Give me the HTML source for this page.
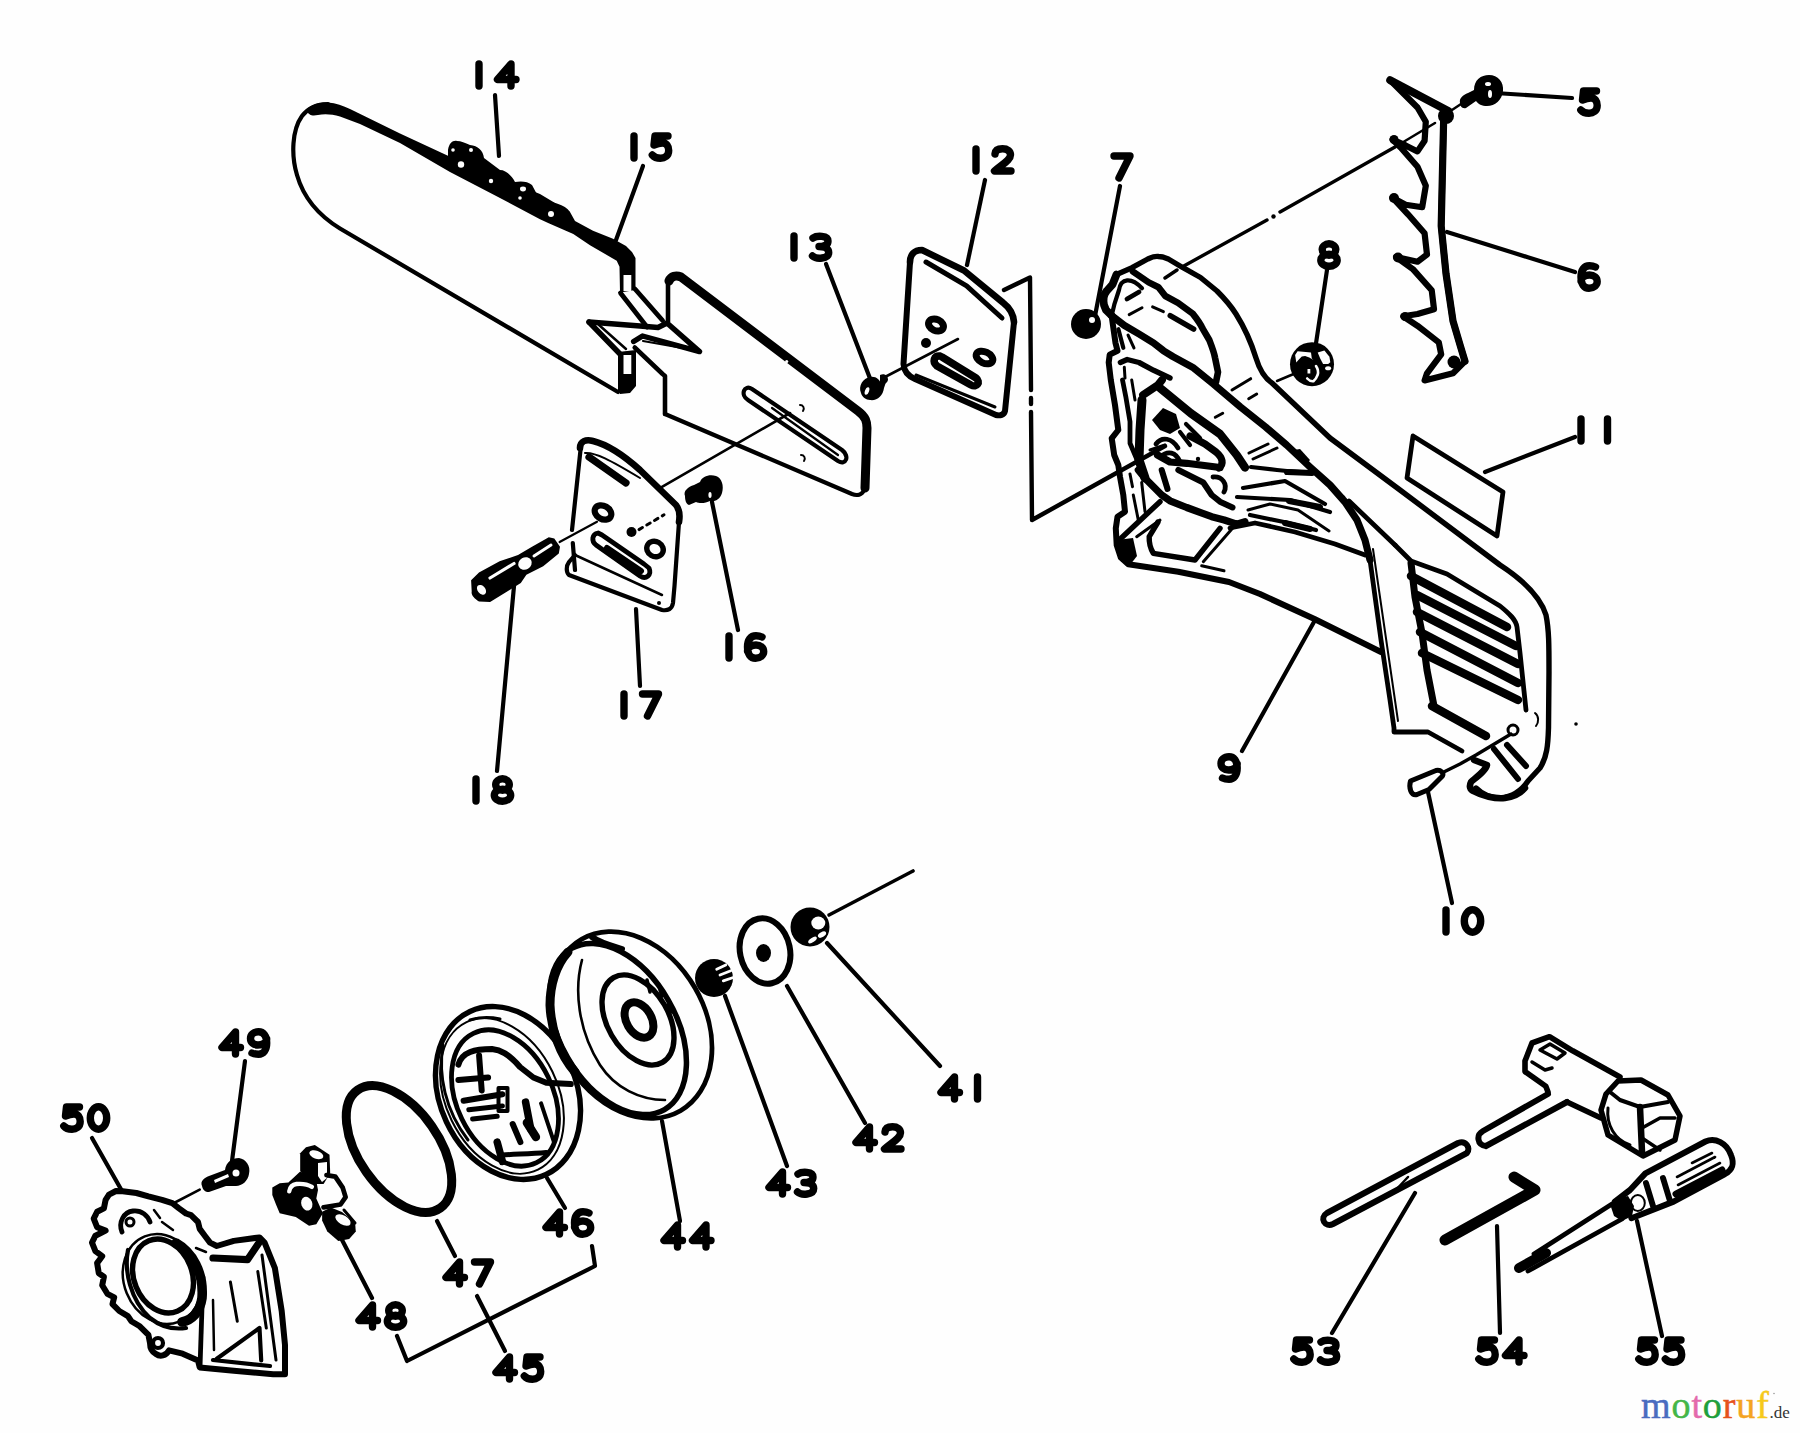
<!DOCTYPE html>
<html><head><meta charset="utf-8"><title>Parts diagram</title>
<style>
html,body{margin:0;padding:0;background:#fefefe;}
svg{display:block;}
.l,.d,.d *{fill:none;stroke:#000;stroke-linecap:round;stroke-linejoin:round;}
.f{fill:#000;stroke:none;}
.w{fill:#fefefe;stroke:none;}
</style></head>
<body>
<svg width="1800" height="1433" viewBox="0 0 1800 1433">
<rect width="1800" height="1433" fill="#fefefe"/>
<g class="d" stroke-width="7.4"><g transform="translate(467.0,60.0) scale(1.0)"><path d="M12,4 L12,26"/></g><g transform="translate(493.5,60.0) scale(1.0)"><path d="M17.5,26 L17.5,4 L4,19.5 L22.5,19.5"/></g></g>
<g class="d" stroke-width="7.4"><g transform="translate(622.0,132.0) scale(1.0)"><path d="M12,4 L12,26"/></g><g transform="translate(648.5,132.0) scale(1.0)"><path d="M19.5,4 L6.5,4 L5.5,13 C9,11.5 12,11 14,11 C18,11 20.2,14 20.2,18.5 C20.2,24 16,26.2 12,26.2 C8,26.2 5.5,25 3.8,23"/></g></g>
<g class="d" stroke-width="7.4"><g transform="translate(782.0,232.0) scale(1.0)"><path d="M12,4 L12,26"/></g><g transform="translate(808.5,232.0) scale(1.0)"><path d="M4.5,6 C8,3.5 19.5,3 19.5,9 C19.5,13.5 14.5,14.5 10.5,14.5 C16,14.5 20.2,16.5 20.2,20.5 C20.2,27 8,27.5 4,24"/></g></g>
<g class="d" stroke-width="7.4"><g transform="translate(964.0,145.0) scale(1.0)"><path d="M12,4 L12,26"/></g><g transform="translate(990.5,145.0) scale(1.0)"><path d="M4.5,9 C5,4.5 9,3.8 12,3.8 C17,3.8 20,6 20,10 C20,15 12,19 4,26 L20.5,26"/></g></g>
<g class="d" stroke-width="7.4"><g transform="translate(1110.0,152.0) scale(1.0)"><path d="M4,4 L20,4 L9,26"/></g></g>
<g class="d" stroke-width="7.4"><g transform="translate(1317.0,240.0) scale(1.0)"><ellipse cx="12" cy="9.5" rx="6.8" ry="5.7"/><ellipse cx="12" cy="20.2" rx="8.2" ry="6.1"/></g></g>
<g class="d" stroke-width="7.4"><g transform="translate(1577.0,87.0) scale(1.0)"><path d="M19.5,4 L6.5,4 L5.5,13 C9,11.5 12,11 14,11 C18,11 20.2,14 20.2,18.5 C20.2,24 16,26.2 12,26.2 C8,26.2 5.5,25 3.8,23"/></g></g>
<g class="d" stroke-width="7.4"><g transform="translate(1577.0,262.0) scale(1.0)"><path d="M18.5,5 C16,3.8 14,3.8 12.5,3.8 C7,3.8 4,8 4,15 C4,22 7,26.2 12,26.2 C17,26.2 20.2,23 20.2,19.5 C20.2,15.5 17,13 12.5,13 C8,13 4,15.5 4,19"/></g></g>
<g class="d" stroke-width="7.4"><g transform="translate(1569.0,415.0) scale(1.0)"><path d="M12,4 L12,26"/></g><g transform="translate(1595.5,415.0) scale(1.0)"><path d="M12,4 L12,26"/></g></g>
<g class="d" stroke-width="7.4"><g transform="translate(717.0,632.0) scale(1.0)"><path d="M12,4 L12,26"/></g><g transform="translate(743.5,632.0) scale(1.0)"><path d="M18.5,5 C16,3.8 14,3.8 12.5,3.8 C7,3.8 4,8 4,15 C4,22 7,26.2 12,26.2 C17,26.2 20.2,23 20.2,19.5 C20.2,15.5 17,13 12.5,13 C8,13 4,15.5 4,19"/></g></g>
<g class="d" stroke-width="7.4"><g transform="translate(612.0,690.0) scale(1.0)"><path d="M12,4 L12,26"/></g><g transform="translate(638.5,690.0) scale(1.0)"><path d="M4,4 L20,4 L9,26"/></g></g>
<g class="d" stroke-width="7.4"><g transform="translate(464.0,775.0) scale(1.0)"><path d="M12,4 L12,26"/></g><g transform="translate(490.5,775.0) scale(1.0)"><ellipse cx="12" cy="9.5" rx="6.8" ry="5.7"/><ellipse cx="12" cy="20.2" rx="8.2" ry="6.1"/></g></g>
<g class="d" stroke-width="7.4"><g transform="translate(1217.0,753.0) scale(1.0)"><path d="M5.5,25 C8,26.2 10,26.2 12,26.2 C17,26.2 20.2,22 20.2,15 C20.2,8 17,3.8 12,3.8 C7,3.8 4,7 4,10.5 C4,14.5 7,17 11.5,17 C16,17 20.2,14.5 20.2,11"/></g></g>
<g class="d" stroke-width="7.4"><g transform="translate(1434.0,906.0) scale(1.0)"><path d="M12,4 L12,26"/></g><g transform="translate(1460.5,906.0) scale(1.0)"><ellipse cx="12" cy="15" rx="8.2" ry="11.2"/></g></g>
<g class="d" stroke-width="7.4"><g transform="translate(218.0,1028.0) scale(1.0)"><path d="M17.5,26 L17.5,4 L4,19.5 L22.5,19.5"/></g><g transform="translate(246.5,1028.0) scale(1.0)"><path d="M5.5,25 C8,26.2 10,26.2 12,26.2 C17,26.2 20.2,22 20.2,15 C20.2,8 17,3.8 12,3.8 C7,3.8 4,7 4,10.5 C4,14.5 7,17 11.5,17 C16,17 20.2,14.5 20.2,11"/></g></g>
<g class="d" stroke-width="7.4"><g transform="translate(60.0,1103.0) scale(1.0)"><path d="M19.5,4 L6.5,4 L5.5,13 C9,11.5 12,11 14,11 C18,11 20.2,14 20.2,18.5 C20.2,24 16,26.2 12,26.2 C8,26.2 5.5,25 3.8,23"/></g><g transform="translate(86.5,1103.0) scale(1.0)"><ellipse cx="12" cy="15" rx="8.2" ry="11.2"/></g></g>
<g class="d" stroke-width="7.4"><g transform="translate(937.0,1073.0) scale(1.0)"><path d="M17.5,26 L17.5,4 L4,19.5 L22.5,19.5"/></g><g transform="translate(965.5,1073.0) scale(1.0)"><path d="M12,4 L12,26"/></g></g>
<g class="d" stroke-width="7.4"><g transform="translate(852.0,1123.0) scale(1.0)"><path d="M17.5,26 L17.5,4 L4,19.5 L22.5,19.5"/></g><g transform="translate(880.5,1123.0) scale(1.0)"><path d="M4.5,9 C5,4.5 9,3.8 12,3.8 C17,3.8 20,6 20,10 C20,15 12,19 4,26 L20.5,26"/></g></g>
<g class="d" stroke-width="7.4"><g transform="translate(765.0,1168.0) scale(1.0)"><path d="M17.5,26 L17.5,4 L4,19.5 L22.5,19.5"/></g><g transform="translate(793.5,1168.0) scale(1.0)"><path d="M4.5,6 C8,3.5 19.5,3 19.5,9 C19.5,13.5 14.5,14.5 10.5,14.5 C16,14.5 20.2,16.5 20.2,20.5 C20.2,27 8,27.5 4,24"/></g></g>
<g class="d" stroke-width="7.4"><g transform="translate(660.0,1221.0) scale(1.0)"><path d="M17.5,26 L17.5,4 L4,19.5 L22.5,19.5"/></g><g transform="translate(688.5,1221.0) scale(1.0)"><path d="M17.5,26 L17.5,4 L4,19.5 L22.5,19.5"/></g></g>
<g class="d" stroke-width="7.4"><g transform="translate(542.0,1208.0) scale(1.0)"><path d="M17.5,26 L17.5,4 L4,19.5 L22.5,19.5"/></g><g transform="translate(570.5,1208.0) scale(1.0)"><path d="M18.5,5 C16,3.8 14,3.8 12.5,3.8 C7,3.8 4,8 4,15 C4,22 7,26.2 12,26.2 C17,26.2 20.2,23 20.2,19.5 C20.2,15.5 17,13 12.5,13 C8,13 4,15.5 4,19"/></g></g>
<g class="d" stroke-width="7.4"><g transform="translate(442.0,1258.0) scale(1.0)"><path d="M17.5,26 L17.5,4 L4,19.5 L22.5,19.5"/></g><g transform="translate(470.5,1258.0) scale(1.0)"><path d="M4,4 L20,4 L9,26"/></g></g>
<g class="d" stroke-width="7.4"><g transform="translate(355.0,1301.0) scale(1.0)"><path d="M17.5,26 L17.5,4 L4,19.5 L22.5,19.5"/></g><g transform="translate(383.5,1301.0) scale(1.0)"><ellipse cx="12" cy="9.5" rx="6.8" ry="5.7"/><ellipse cx="12" cy="20.2" rx="8.2" ry="6.1"/></g></g>
<g class="d" stroke-width="7.4"><g transform="translate(492.0,1353.0) scale(1.0)"><path d="M17.5,26 L17.5,4 L4,19.5 L22.5,19.5"/></g><g transform="translate(520.5,1353.0) scale(1.0)"><path d="M19.5,4 L6.5,4 L5.5,13 C9,11.5 12,11 14,11 C18,11 20.2,14 20.2,18.5 C20.2,24 16,26.2 12,26.2 C8,26.2 5.5,25 3.8,23"/></g></g>
<g class="d" stroke-width="7.4"><g transform="translate(1290.0,1336.0) scale(1.0)"><path d="M19.5,4 L6.5,4 L5.5,13 C9,11.5 12,11 14,11 C18,11 20.2,14 20.2,18.5 C20.2,24 16,26.2 12,26.2 C8,26.2 5.5,25 3.8,23"/></g><g transform="translate(1316.5,1336.0) scale(1.0)"><path d="M4.5,6 C8,3.5 19.5,3 19.5,9 C19.5,13.5 14.5,14.5 10.5,14.5 C16,14.5 20.2,16.5 20.2,20.5 C20.2,27 8,27.5 4,24"/></g></g>
<g class="d" stroke-width="7.4"><g transform="translate(1475.0,1336.0) scale(1.0)"><path d="M19.5,4 L6.5,4 L5.5,13 C9,11.5 12,11 14,11 C18,11 20.2,14 20.2,18.5 C20.2,24 16,26.2 12,26.2 C8,26.2 5.5,25 3.8,23"/></g><g transform="translate(1501.5,1336.0) scale(1.0)"><path d="M17.5,26 L17.5,4 L4,19.5 L22.5,19.5"/></g></g>
<g class="d" stroke-width="7.4"><g transform="translate(1635.0,1336.0) scale(1.0)"><path d="M19.5,4 L6.5,4 L5.5,13 C9,11.5 12,11 14,11 C18,11 20.2,14 20.2,18.5 C20.2,24 16,26.2 12,26.2 C8,26.2 5.5,25 3.8,23"/></g><g transform="translate(1661.5,1336.0) scale(1.0)"><path d="M19.5,4 L6.5,4 L5.5,13 C9,11.5 12,11 14,11 C18,11 20.2,14 20.2,18.5 C20.2,24 16,26.2 12,26.2 C8,26.2 5.5,25 3.8,23"/></g></g>
<!-- 01_leaders.svg -->
<g class="l" stroke-width="4.2">
<path d="M495,95 L499,156"/>
<path d="M643,166 L616,240"/>
<path d="M826,264 L871,381"/>
<path d="M985,180 L967,265"/>
<path d="M1120,186 L1095,316"/>
<path d="M1327,270 L1315,350"/>
<path d="M1495,93 L1572,98"/>
<path d="M1447,232 L1575,272"/>
<path d="M1485,472 L1575,437"/>
<path d="M712,502 L738,630"/>
<path d="M636,609 L640,686"/>
<path d="M514,586 L497,771"/>
<path d="M1242,751 L1314.5,621"/>
<path d="M1452,903 L1428,792"/>
<path d="M245,1061 L232,1161"/>
<path d="M92,1138 L122,1191"/>
<path d="M827,943 L940,1066"/>
<path d="M787,986 L865,1123"/>
<path d="M725,996 L787,1166"/>
<path d="M662,1121 L680,1221"/>
<path d="M547,1178 L565,1208"/>
<path d="M437,1221 L455,1256"/>
<path d="M340,1236 L372,1298"/>
<path d="M477,1296 L505,1351"/>
<path d="M397,1336 L407,1361 L595,1266 L592,1246"/>
<path d="M1332,1333 L1415,1193"/>
<path d="M1500,1333 L1497,1226"/>
<path d="M1662,1336 L1637,1221"/>
</g>
<!-- 10_bar.svg -->
<g>
<!-- front bar outline -->
<path class="l" stroke-width="4.2" d="M618,392 L340,228.5 C318,215 303,196 297,175 C291,155 292,130 302,116 C308,108 318,104 328,104"/>
<!-- chain band -->
<path class="f" d="M306,110 C312,104 320,102 328,102.5 C336,103 343,106 350,109 L400,133.5 L470,166 L540,194 L570,212 L575,221 L593,230.7 L613,238.7 L626,246 L632,252 L635.5,258 L635.5,290 L620,292.5 L619.5,266.7 L616.7,260.7 L590,245.3 L573.3,234 L548.7,223.3 L540,219.3 L500,198 L450,172 L400,143 L360,124 L340,116.5 C332,114 324,113.5 318,115 C313,116 309,116 306,110 Z"/>
<!-- chain bumps -->
<path class="f" d="M448,150 C449,143 453,140 457,141 C461,141 465,143 470,145 C478,146 483,150 484,158 L500,170 C506,170 512,176 515,182 C520,181 528,181 532,185 L540,200 C552,202 565,204 570,212 L560,224 L448,165 Z"/>
<g class="w"><circle cx="453" cy="150" r="1.8"/><circle cx="471" cy="150" r="2"/><circle cx="461" cy="164.5" r="3.2"/><circle cx="491" cy="181" r="2.2"/><ellipse cx="523" cy="189" rx="3" ry="2.4"/><circle cx="520" cy="198" r="1.8"/><circle cx="551" cy="214" r="3"/></g>
<!-- right end of front bar top -->

<rect class="w" x="623.5" y="275" width="7.8" height="16"/>
<!-- diagonal strip -->
<path class="l" stroke-width="4.8" d="M620.5,293 L647,327"/>
<path class="l" stroke-width="4.8" d="M635,289 L662.6,320.5"/>
<!-- N shape -->
<path class="l" stroke-width="5.4" d="M589,322 L640,326 L658,327.5 L667,323 L699.5,351.6 L642.5,336 L633.6,341.5"/>
<path class="l" stroke-width="5.4" d="M589,322 L620,354"/>
<path class="l" stroke-width="2.5" d="M599,325 L626,349"/>
<path class="l" stroke-width="2.2" d="M643,341 L688,349"/>
<!-- lower right end of front bar -->
<path class="f" d="M618,352 L636,350 L636,386 L630,393 L620,394 L618,390 Z"/>
<rect class="w" x="623.5" y="355" width="7.8" height="19"/>
<!-- rear bar -->
<path class="l" stroke-width="4.56" d="M634.7,347.5 L662.6,374 L665,376 L665,414"/>
<path class="l" stroke-width="4.56" d="M668,321.5 L668,282"/>
<path class="l" stroke-width="9.0" d="M669,281 C671,276 676,275 681,277 L858,411 C866,417 867,422 867,428 L865,488"/>
<path class="l" stroke-width="4.2" d="M864,490 C862,495 857,496 852,494 L665,414"/>
<circle class="w" cx="786.7" cy="361.5" r="1.6"/>
<!-- slot -->
<path class="l" stroke-width="4.2" d="M752,389 L842,450 C850,456 846,466 838,461 L748,400 C740,395 744,384 752,389 Z"/>
<path class="l" stroke-width="2.2" d="M772,408 L838,455"/>
<path class="l" stroke-width="2.0" d="M800,405 C803,405 805,408 803,411 M801,455 C804,455 806,458 804,461"/>
<!-- line plate17 to bar -->
<path class="l" stroke-width="2.6" d="M660.7,487.6 L790,413"/>
</g>
<!-- 11_plate17.svg -->
<g>
<!-- plate 17 -->
<path class="l" stroke-width="6.6" d="M580,448 C580,441 586,439 593,441 C605,444 620,452 640,470 L676,505 C680,510 680,516 679,522"/>
<path class="l" stroke-width="4.2" d="M679,522 L674.5,586 L673,603 C672,609 668,611 662,610 L569,575 C566,572 566,566 569,562 L575,555"/>
<path class="l" stroke-width="4.2" d="M580.6,449 L572,530 M572.8,543 L575,570"/>
<path class="l" stroke-width="2.5" d="M575,555 L662,595"/>
<path class="l" stroke-width="7.2" d="M589,457 L626,483"/>
<path class="l" stroke-width="2.0" d="M585,453 C595,452 610,460 640,478"/>
<ellipse class="l" stroke-width="6.2" cx="603" cy="512.5" rx="8.8" ry="6.6" transform="rotate(30 603 512.5)"/>
<ellipse class="l" stroke-width="5.4" cx="655" cy="549" rx="8.5" ry="7.5" transform="rotate(30 655 549)"/>
<path class="l" stroke-width="4.8" d="M598,533 C592,534 591,541 596,545 L640,576 C646,580 652,575 649,568 L644,564 L602,535 Z"/>
<path class="l" stroke-width="6.0" d="M607,548 L641,571"/>
<circle class="f" cx="631.5" cy="532" r="5"/>
<path class="l" stroke-width="3.0" stroke-dasharray="4 5" d="M639,529.6 L664,514.8"/>
<circle class="f" cx="659" cy="603" r="2"/>
<!-- pin 18 -->
<path class="f" d="M471.1,580.3 L479,572.4 L499.6,561.3 L518,555.1 L532,546.8 L548.8,537.3 L554.3,538.4 L560,546.8 L558.8,553.5 L543.2,566.3 L526.4,574.7 L520.8,583 L490.1,602 L479,601.5 C474,598 471,595 471.7,591.4 Z"/>
<ellipse class="w" cx="481.5" cy="589.8" rx="5.5" ry="3.8" transform="rotate(50 481.5 589.8)"/>
<path class="l" style="stroke:#fefefe" stroke-width="3.2" d="M490,578 L514,563.5"/>
<ellipse class="w" cx="525" cy="563.5" rx="7" ry="6" transform="rotate(-30 525 563.5)"/>
<path class="l" style="stroke:#fefefe" stroke-width="3" d="M534,556 L551,545"/>
<path class="l" stroke-width="2.2" d="M559.6,542 L597,521.8"/>
<!-- screw 16 -->
<path class="f" d="M685,496 C683,491 688,487 694,485 L700,482 C702,476 710,474 716,476 C722,478 724,486 722,493 C720,500 714,502 710,501 C706,503 700,504 696,502 L689,505 C686,504 685,500 685,496 Z"/>
<ellipse class="w" cx="710" cy="495" rx="1.6" ry="3"/>
<!-- screw 13 -->
<path class="f" d="M861,393 C858,386 863,378 870,377 C876,376 880,380 881,384 L886,382 L884,388 C883,396 877,401 870,400 C866,400 862,397 861,393 Z"/>
<ellipse class="w" cx="867" cy="391" rx="2" ry="4" transform="rotate(20 867 391)"/>
</g>
<!-- 20_plate12.svg -->
<g>
<!-- plate 12 -->
<path class="l" stroke-width="6.6" d="M910,262 C910,255 914,250 922,250 L964,270.5 L1003,302.6 C1010,308 1013.5,314 1014,322"/>
<path class="l" stroke-width="6" d="M1014,322 L1005,411 C1004,415 1000,416 996,415 L915,379 C908,376 904,372 903.5,364 L910,262"/>
<path class="l" stroke-width="5" d="M926,262 L966.6,285.8 L1002,318"/>
<path class="l" stroke-width="3" d="M916,375 L995,407"/>
<ellipse class="l" stroke-width="7" cx="936" cy="325" rx="7.8" ry="5.6" transform="rotate(25 936 325)"/>
<ellipse class="l" stroke-width="7" cx="984.5" cy="357.5" rx="8.8" ry="5.6" transform="rotate(25 984.5 357.5)"/>
<path class="l" stroke-width="7.5" d="M940,356 C934,355 932,362 937,366 L971,385 C977,388 981,382 976,378 L942,357 Z"/>
<circle class="f" cx="926" cy="343" r="5"/>
<path class="l" stroke-width="2.6" d="M885,377 L958,339"/>
<path class="f" d="M880,375 C884,373 888,375 888,380 C887,384 883,385 880,384 Z"/>
<!-- bracket line -->
<path class="l" stroke-width="4.4" d="M1004,290 L1030,277.5 L1031,390 M1031,398 L1031,404 M1031,412 L1032,520 L1165,446"/>
<!-- nut 7 -->
<circle class="f" cx="1086" cy="324" r="15"/>
<circle class="w" cx="1092" cy="320" r="3"/>
</g>
<!-- 30_cover.svg -->
<g>
<!-- outer contour: ear + L_outer + right end -->
<path class="l" stroke-width="5.4" d="M1116.5,274.5 L1132,267.7 L1147.8,259 C1152,257 1155,256 1158.5,256.5 C1162,256.5 1165,257.5 1168.3,259 L1183,267.7 L1200.5,277.5 L1217,291 C1225,299 1231,306 1236,314 C1246,330 1252,345 1256,358 C1259,368 1263,377 1272,383 L1330,438 L1400,490 L1500,565 C1520,578 1540,596 1546,615 C1549,630 1549,645 1549,672 L1548.5,728 C1548,745 1547,757 1540,768 L1528,781 C1522,790 1512,797 1500,798 C1490,798 1482,794 1476,788"/>
<path class="l" stroke-width="6.5" d="M1474,760 L1487,765 C1486,770 1478,776 1471,782 C1469,786 1470,789 1473,791 C1482,796 1495,799 1505,798 C1513,797 1520,794 1525,788"/>
<!-- ear left thick -->
<path class="l" stroke-width="7.8" d="M1116.5,274.5 L1112.6,284.3 L1106.7,291 C1103,295 1103,300 1104,305 L1106,310 L1111.6,315.6"/>
<!-- ear inner arc D -->
<path class="l" stroke-width="6.6" d="M1133,271.6 L1148.7,282.4 L1158.5,287.2 L1165.3,296 L1178,302.9 L1192.7,313.6 C1197,319 1200,323 1202.5,328.3 L1209.3,340 C1212,347 1214,352 1215,357.6 L1218,372.2 L1216,382"/>
<!-- ear inner contour -->
<path class="l" stroke-width="4.2" d="M1142,288.2 C1138,284 1132,280 1127.2,280.4 C1122,281 1120,284 1119,290 L1114.5,303.8 L1112.6,311.7"/>
<path class="l" stroke-width="4.8" d="M1127,299 L1139,292"/>
<g class="l" stroke-width="3.0">
<path d="M1129.2,314.6 L1142,307.8"/>
<path d="M1152.6,306.8 L1163.4,311.7"/>
</g>
<path class="l" stroke-width="5.4" d="M1170.2,315.6 L1193.7,329.2"/>
<!-- L_main -->
<path class="l" stroke-width="7.2" d="M1111.6,315.6 L1124.3,325.3 L1139,334 L1153.6,343 L1163.4,350.7 L1173,356.6 L1192.7,367.3 L1213.7,384.3 L1240.5,407 L1265.6,427 L1286.6,445 L1310,467 L1330,485 L1345,502 L1357,520 L1365,540 L1370,560"/>
<path class="f" d="M1294,450 L1300,449 L1310,460 L1306,465 Z"/>
<!-- L_mid and lower lines -->
<path class="l" stroke-width="2.5" d="M1330,487 L1344,497"/>
<path class="l" stroke-width="4.8" d="M1349,501 L1395,545"/>
<!-- left contour -->
<path class="l" stroke-width="6.0" d="M1111.6,315.6 L1115.5,343 L1117.5,350.7 L1109.7,354.6 L1108.7,362.5 L1110.8,380 L1115,405 L1118.3,430 L1111.7,438.3 L1114.2,455 L1118.3,465 L1120,476.7 L1123.3,495 L1125,511.7 L1117.5,516.7 L1115.8,528.3 L1116.7,545 L1120.8,557.5 L1128.3,564.2 L1145,566.7 L1178.3,571.7 L1229,582 L1260,594 L1314.5,619 L1381,652"/>
<!-- inner left lines -->
<path class="l" stroke-width="4.2" d="M1118.4,329.2 L1123.3,347.8"/>
<path class="l" stroke-width="3.0" d="M1128,335 L1134,348"/>
<path class="l" stroke-width="4.8" d="M1122.5,380 L1125.8,396.7 L1130,421.7 L1130,443.3 L1136.7,459"/>
<path class="l" stroke-width="3.0" d="M1131.7,380 L1135,400"/>
<path class="l" stroke-width="3.0" d="M1130,474 L1132.5,486.7 M1133.3,495 L1138.3,520 M1141.7,482.5 L1145,511.7"/>
<!-- top of inner housing -->
<path class="l" stroke-width="5.4" d="M1120.4,362.5 L1127.2,359.5 L1139,362.5 L1153.6,370.3 L1170,378"/>
<path class="l" stroke-width="3.0" d="M1124.3,367.3 L1125,378"/>
<!-- housing wall -->
<path class="l" stroke-width="9.0" d="M1142,400 L1140,430 L1139,460 L1145,478"/>
<path class="l" stroke-width="7.8" d="M1143,395 L1158,385 L1162,380"/>
<!-- L_lower thick -->
<path class="l" stroke-width="8.4" d="M1160,388 L1190.8,413.3 L1220,434 L1236.7,455 L1245,467.5"/>
<!-- sprocket detail -->
<path class="f" d="M1152,420 L1163,408 L1176,414 L1180,428 L1170,434 L1160,430 Z"/>
<path class="l" stroke-width="4.8" d="M1156,444 C1162,436 1172,438 1178,448 M1160,457 C1168,450 1176,452 1180,462"/>
<path class="l" stroke-width="4.2" d="M1186,424 L1200,438 M1180,432 L1190,445"/>
<path class="l" stroke-width="7.2" d="M1190,436 L1205,444 L1216,452 C1223,458 1224,464 1219,468"/>
<circle class="f" cx="1198" cy="459" r="2.2"/>
<path class="l" stroke-width="7.2" d="M1157.5,455 L1170,462 L1186.7,463.3 L1220,467.5"/>
<path class="l" stroke-width="3.0" d="M1150,450 L1165,445"/>
<!-- upper window lower boundary & lower window -->
<path class="l" stroke-width="7.2" d="M1138.3,470 L1145,478.3 L1161.7,495 L1170,500.8 L1186.7,507.5 L1211.7,516.7 L1224.2,520 L1236.7,524.2 L1245,521.7"/>
<path class="l" stroke-width="6.0" d="M1161.7,470 L1167.5,489"/>
<path class="l" stroke-width="6.0" d="M1178.3,470 L1203.3,482.5 L1211.7,495 L1220,501.7 L1232.5,507.5"/>
<path class="l" stroke-width="4.8" d="M1213,477 C1222,476 1228,484 1224,492"/>
<path class="l" stroke-width="5.4" d="M1220,528.3 L1195,560 L1153.3,553.3 C1150,548 1149,542 1149.2,536.7 L1158,522"/>
<!-- diagonal from bottom-left corner -->
<path class="l" stroke-width="5.4" d="M1120,539.2 L1160,501.7"/>
<path class="l" stroke-width="3.0" d="M1136.7,536.7 L1160,520"/>
<path class="f" d="M1117,540 L1133,538 L1137,556 L1130,565 L1120,560 Z"/>
<path class="l" stroke-width="3.0" d="M1203.3,561.7 L1232.5,528.3 M1201.7,565.8 L1224,570.8"/>
<!-- small parallel strokes -->
<path class="l" stroke-width="3.0" d="M1249,453 L1268,444 M1253,459 L1277,448"/>
<!-- fins -->
<path class="l" stroke-width="4.2" d="M1251,467 L1277,470 L1287,471 L1315,473"/>
<path class="l" stroke-width="6.0" d="M1287,472 L1312,473"/>
<path class="l" stroke-width="4.2" d="M1243,488 L1285,481 L1325,504"/>
<path class="l" stroke-width="4.2" d="M1237,497 L1290,500 L1330,512"/>
<path class="l" stroke-width="6.0" d="M1289,501 L1320,507"/>
<path class="l" stroke-width="3.0" d="M1248,510 L1270,504 L1298,510 L1329,531"/>
<path class="l" stroke-width="4.2" d="M1250,515 L1284,522 L1316,530"/>
<path class="l" stroke-width="6.0" d="M1285,523 L1310,529"/>
<path class="l" stroke-width="4.8" d="M1230,528 L1255,523 L1295,532 L1335,544 L1365,555"/>
<!-- handle guard right curve -->
<path class="l" stroke-width="4.8" d="M1370,560 L1381,640 L1390,700 L1394,728 L1394,732 L1428,732 L1462,751"/>
<path class="l" stroke-width="2.0" d="M1373,549 L1398,721"/>
<!-- grille frame -->
<path class="l" stroke-width="4.8" d="M1395,545 L1411,561 L1447,574 L1500,606 C1510,614 1516,620 1517,627 L1520,653 L1524,691 L1526,710"/>
<!-- grille stripes -->
<g class="l" stroke-width="8.5">
<path d="M1411,576 L1507,627"/>
<path d="M1417,595 L1516,646"/>
<path d="M1417,612 L1518,664"/>
<path d="M1420,632 L1518,683"/>
<path d="M1422,653 L1518,700"/>
<path d="M1432,706 L1486,736"/>
</g>
<path class="l" stroke-width="7" d="M1411,563 L1415,597 L1422,633 L1427,670 L1434,706"/>
<circle class="l" stroke-width="3.0" cx="1513" cy="730" r="5"/>
<circle class="f" cx="1576" cy="724" r="1.8"/>
<path class="l" stroke-width="6" d="M1494,749 L1518,779 M1507,745 L1526,766"/>
<path class="l" stroke-width="2.0" d="M1535,713 C1539,716 1539,722 1536,726"/>
<!-- part 10 -->
<path class="l" stroke-width="5" d="M1410.5,781 L1436,770.5 C1441,769.5 1444,773 1442.5,776 L1429,789.5 L1417,794.5 C1411,796 1408.5,788 1410.5,781 Z"/>
<path class="l" stroke-width="3.4" d="M1444.8,771.6 L1460,764 L1476,755 L1511,734"/>
<!-- washer 8 -->
<circle class="f" cx="1312" cy="364.2" r="22"/>
<path class="w" d="M1295.1,355.1 L1297.6,351.3 L1311,352.6 L1311.8,358.4 L1313.5,360.1 L1309.3,357.6 L1305.1,355.9 L1301.8,356.4 L1298.4,360.1 L1296.3,362.6 Z"/>
<path class="w" d="M1317.7,352.6 L1324.4,350.5 L1329.4,356.8 L1330.3,362.2 L1328.2,363.9 L1323.1,363.9 L1320.2,358.5 Z"/>
<ellipse class="w" cx="1328.1" cy="368.3" rx="3" ry="2"/>
<path class="l" style="stroke:#fefefe" stroke-width="2.6" d="M1316,366 C1318,369 1318.5,372 1317.7,374.8 C1316.5,378 1315,380 1313.5,381.1 C1311,381.5 1309,380.5 1307.2,378.5"/>
<rect class="w" x="1307.5" y="369" width="2.8" height="4.5"/>
<path class="l" stroke-width="2.5" d="M1277,381 L1296,373"/>
<!-- dash-dot from 8 -->
<g class="l" stroke-width="3.0"><path d="M1232,390 L1250.7,378.7"/><path d="M1248.7,398.7 L1256.7,394"/><path d="M1215.3,417.3 L1222.7,413.3"/></g>
<!-- dash-dot line from 5 -->
<path class="l" stroke-width="2.6" d="M1435,123 L1395,147"/>
<path class="l" stroke-width="3.4" d="M1395,147 L1280,212 M1267,220 L1182,267 M1177,270 L1165,278"/>
<circle class="f" cx="1273.5" cy="216.5" r="2.2"/>
<!-- decal 11 -->
<path class="l" stroke-width="4.8" d="M1413,436 L1503,492 L1497,536 L1407,478 Z"/>
</g>
<!-- 40_top_right.svg -->
<g>
<!-- part 6 -->
<path class="l" stroke-width="8" d="M1390.2,80.2 L1448.3,111"/>
<path class="l" stroke-width="6.2" d="M1390.2,80.2 L1417.5,107.5 L1425.8,121.7 L1424.6,140.7 L1417.5,151.4 L1405.6,145.4 L1392.5,139.5 L1400.9,147.8 L1417.5,166.8 L1425.8,185.8 L1422.2,207.2 L1405.6,204.8 L1392.5,197.7 L1408,214.3 L1424.6,233.3 L1427,254.6 L1417.5,261.7 L1396,257 L1412.7,268.9 L1431.7,290.2 L1434,309.2 L1417.5,314 L1403.2,316.3 L1417.5,325.8 L1438.8,342.4 L1441.2,354.3 L1427,373.3 L1424.6,380.4 L1453,373.3 L1465,361.4 L1460,344.8 L1453,321 L1446,273.6 L1441.2,226 L1443.6,121.7"/>
<circle class="f" cx="1446" cy="116" r="8"/>
<path class="l" stroke-width="7.2" d="M1443.6,121.7 L1441.2,226 L1446,273.6 L1453,321 L1460,344.8 L1465,361.4"/>
<g class="f"><circle cx="1394" cy="139.5" r="4.5"/><circle cx="1394" cy="198" r="5"/><circle cx="1398" cy="257.5" r="5"/><circle cx="1405" cy="316.5" r="4.5"/></g>
<circle class="f" cx="1454" cy="362" r="6.5"/>
<!-- part 5 -->
<path class="f" d="M1460,103 C1459,98 1463,95 1468,93 L1474,90 C1474,80 1481,75 1489,75 C1498,75 1504,82 1503,91 C1502,100 1495,106 1487,106 C1482,106 1478,104 1476,101 L1466,108 C1462,109 1460,106 1460,103 Z"/>
<g class="w"><ellipse cx="1488" cy="84" rx="3" ry="2"/><ellipse cx="1490" cy="94" rx="2" ry="4"/></g>
<path class="l" stroke-width="2.5" d="M1449,112 L1461,104"/>

</g>
<!-- 50_bottom_left.svg -->
<g>
<!-- part 50 outer -->
<path class="l" stroke-width="6.0" d="M109,1194.7 L116,1191 L122.7,1191.3 L136.4,1193 L148.4,1196.4 L162,1199.8 L172.3,1203.2 L179,1208.4 L186,1213.5 L191,1215.2 L198,1222 L199.7,1228.9 L204.8,1235.7 L210,1242.6 L216.8,1246 L233.8,1240.9 L259.5,1237.4 L264.6,1242.6 L274.9,1268.2 L281.7,1311 L285,1345 L285,1374.2 L273.2,1374.2 L233.8,1370.8 L199.7,1367.4 L198,1360.5 L182.6,1353.7 L169,1350.3 C166,1356 160,1357 156,1354 C152,1352 150,1348 150,1343 L148.4,1334.9 L139.8,1326.3 L131.3,1321.2 L127.9,1316.1 L119.3,1311 L112.5,1304.1 L114.2,1297.3 L107.4,1293.8 L102.2,1285.3 L103.9,1276.8 L98.8,1273.3 L97.1,1263.1 L102.2,1256.2 L95.4,1251.1 L92,1242.6 L95.4,1235.7 L105.6,1230.6 L97.1,1227.2 L93.7,1218.6 L97.1,1211.8 L103.9,1208.4 L105.6,1199.8 L109,1194.7"/>
<!-- bore -->
<ellipse class="l" stroke-width="5.4" cx="163" cy="1276" rx="29" ry="38" transform="rotate(-22 163 1276)"/>
<path class="l" stroke-width="9.6" d="M176,1243 C192,1252 204,1272 202,1298 C200,1312 192,1320 182,1322"/>
<ellipse class="l" stroke-width="2.5" cx="162" cy="1279" rx="38" ry="46" transform="rotate(-22 162 1279)"/>
<path class="l" stroke-width="4.2" d="M128,1250 C124,1270 130,1300 150,1318 C160,1326 172,1330 186,1328"/>
<!-- holes -->
<path class="l" stroke-width="4.8" d="M122,1232 C118,1222 124,1212 133,1211 C142,1210 148,1216 150,1222"/>
<circle class="l" stroke-width="3.0" cx="130" cy="1222" r="4"/>
<circle class="l" stroke-width="4.2" cx="158" cy="1343" r="5"/>
<path class="l" stroke-width="2.5" d="M154,1210 L160,1218 M162,1222 L173,1230 M196,1248 L206,1252"/>
<!-- bracket part -->
<path class="l" stroke-width="7.2" d="M213,1258 L247.5,1259.7 L259.5,1242"/>
<path class="l" stroke-width="4.8" d="M203,1277 L200,1367"/>
<path class="l" stroke-width="3.0" d="M230.4,1282 L237.3,1321.2 M257.8,1271.6 L266.3,1328 M262,1255 L276,1360"/>
<path class="l" stroke-width="4.2" d="M216.8,1358.8 L259.5,1328 L261.2,1360.5 M213,1360 L270,1366"/>
<path class="l" stroke-width="2.5" d="M213,1300 L214,1350"/>
<!-- screw 49 -->
<path class="f" d="M202,1186 C200,1181 204,1178 209,1176 L225,1170 C226,1162 232,1158 239,1158 C246,1159 251,1166 249,1174 C248,1181 242,1186 236,1186 L226,1186 L209,1192 C205,1192 203,1190 202,1186 Z"/>
<path class="w" d="M214,1180 L228,1174 L229,1177 L215,1183 Z"/>
<circle class="w" cx="236" cy="1173" r="3.5"/>
<path class="l" stroke-width="2.6" d="M174,1203 L199.7,1189.6"/>
<!-- part 48 -->
<path class="f" d="M300.2,1153.2 L306,1147.3 L314.8,1145.1 L329.5,1154.7 L330.2,1173 L323.6,1184 L309,1184 L300.2,1170.8 Z"/>
<ellipse class="w" cx="316.3" cy="1154.7" rx="7.3" ry="4" transform="rotate(20 316.3 1154.7)"/>
<path class="w" d="M318,1163 L327,1162 L327,1178 L322,1182 L318,1176 Z"/>
<path class="f" d="M272.3,1187.6 L279.7,1183.2 L288.4,1182.5 L300.2,1171.5 L316.3,1181 L318,1190 L316.3,1198.6 L322.9,1213.3 L316.3,1224.2 L309,1225.7 L295.8,1217 L279.7,1213.3 L276,1204.5 L272.3,1195 Z"/>
<path class="l" style="stroke:#fefefe" stroke-width="4.32" d="M289.2,1191.3 C290,1187 293,1184.5 296.5,1184 C302,1183.5 308,1184.5 311.9,1186.9"/>
<ellipse class="w" cx="306.8" cy="1203.7" rx="5.5" ry="7" transform="rotate(-20 306.8 1203.7)"/>
<path class="l" stroke-width="4.8" d="M326.5,1175.2 L335.3,1176.6 L342.7,1187.6 L345.6,1197.1 L340.5,1204.5 L323.6,1207.4"/>
<path class="f" d="M322.1,1211.8 L330.9,1207.4 L342,1212 L355.1,1222.8 L355.8,1231.6 L349.2,1238.9 L338.3,1241.1 L327.3,1231.6 L322.1,1220.6 Z"/>
<ellipse class="w" cx="343" cy="1220" rx="8.5" ry="4.5" transform="rotate(30 343 1220)"/>
<path class="l" stroke-width="3.0" d="M344,1210 L355,1223"/>
<!-- ring 47 -->
<ellipse class="l" stroke-width="9.0" cx="399" cy="1149" rx="72" ry="40" transform="rotate(55 399 1149)"/>
<!-- clutch 46 -->
<ellipse class="l" stroke-width="5.4" cx="508" cy="1093" rx="90" ry="68" transform="rotate(65 508 1093)"/>
<ellipse class="l" stroke-width="4.8" cx="505" cy="1098" rx="72" ry="48" transform="rotate(64 505 1098)"/>
<ellipse class="l" stroke-width="2.0" cx="502" cy="1096" rx="82" ry="56" transform="rotate(64 502 1096)"/>
<path class="l" stroke-width="6" d="M458.4,1064.6 C462,1052 475,1049 492,1049 C500,1050 508,1053 520,1067 L533.4,1077.5 L546.3,1082.7 L570.8,1084"/>
<g class="l" stroke-width="6">
<path d="M458.4,1080.1 L488.1,1077.5"/>
<path d="M463.6,1100.8 L502.4,1094.3"/>
<path d="M479.1,1055.6 L481.7,1090.4"/>
<path d="M512.7,1124 L520.4,1142.1"/>
</g>
<g class="l" stroke-width="5">
<path d="M468.8,1109.8 L502.4,1105.9"/>
<path d="M472.6,1118.9 L497.2,1116.3"/>
<path d="M502.4,1155 C515,1154 530,1154 546.3,1152.5"/>
</g>
<path class="l" stroke-width="4" d="M498.5,1087.9 L507.5,1087.9 L507.5,1111.1 L498.5,1111.1 Z M541.1,1103.4 L554,1142.1"/>
<path class="l" stroke-width="7.5" d="M525.6,1102.1 L530.8,1129.2 M497.2,1142.1 L502.4,1161.5"/>
<path class="l" stroke-width="8.5" d="M526.9,1122.7 L535.9,1137"/>
<path class="l" stroke-width="3" d="M470,1020 C480,1017 490,1017 500,1019"/>
<path class="l" stroke-width="3" d="M443,1045 C438,1075 445,1110 468,1140"/>
<!-- drum 44 -->
<ellipse class="l" stroke-width="4.8" cx="631" cy="1025" rx="99" ry="74" transform="rotate(60 631 1025)"/>
<ellipse class="l" stroke-width="5.5" cx="618" cy="1029" rx="93" ry="58" transform="rotate(60 618 1029)"/>
<path class="l" stroke-width="9" d="M568,952 C556,965 550,985 550,1005 C551,1030 560,1055 575,1072"/>
<path class="l" stroke-width="6" d="M592,937 C600,943 612,946 622,949"/>
<path class="l" stroke-width="2.6" d="M582,960 C574,990 578,1030 600,1065 C615,1088 640,1100 665,1100"/>
<ellipse class="l" stroke-width="5.4" cx="638" cy="1020" rx="48.9" ry="30.5" transform="rotate(60 638 1020)"/>
<ellipse class="l" stroke-width="8" cx="639" cy="1020" rx="19" ry="12.5" transform="rotate(60 639 1020)"/>
<path class="l" stroke-width="3.5" d="M647,980 L650,992 M660,990 L662,996 M668,1005 L672,1012"/>
<!-- sprocket 43 -->
<circle class="f" cx="714" cy="978" r="19"/>
<g class="l" style="stroke:#fefefe" stroke-width="2.8"><path d="M716.7,969.2 L725.8,965"/><path d="M720,975 L730.8,970.8"/><path d="M723.3,980.8 L733.3,977.5"/></g>
<!-- washer 42 -->
<ellipse class="l" stroke-width="6.0" cx="765" cy="951" rx="25" ry="33" transform="rotate(-12 765 951)"/>
<ellipse class="f" cx="763.5" cy="953" rx="7.5" ry="9"/>
<!-- nut 41 -->
<circle class="f" cx="810" cy="927" r="19.5"/>
<g class="w"><ellipse cx="818.3" cy="923" rx="7" ry="6.5"/><ellipse cx="812.5" cy="940" rx="5" ry="2.2" transform="rotate(-35 812.5 940)"/><ellipse cx="822" cy="934.6" rx="4.5" ry="2.5" transform="rotate(-30 822 934.6)"/></g>
<path class="l" stroke-width="3.6" d="M829,915 L913,871"/>
</g>
<!-- 60_tools.svg -->
<g>
<!-- file 53 -->
<path class="l" stroke-width="6.0" d="M1327,1213 L1458,1143 C1466,1140 1471,1148 1467,1153 L1333,1224 C1325,1228 1319,1218 1327,1213 Z"/>
<path class="l" stroke-width="2.5" d="M1393,1193 L1408,1177"/>
<!-- hex key 54 -->
<path class="l" stroke-width="11.0" d="M1445,1240 L1535,1190 L1514,1177"/>
<!-- wrench -->
<path class="l" stroke-width="6.0" d="M1483,1131 L1548,1094 M1486,1146 L1567,1102 M1483,1131 C1476,1135 1477,1145 1486,1146"/>
<path class="l" stroke-width="5.6" d="M1525,1061 L1532,1043 L1549.5,1036.7 L1572.7,1050.8 L1620,1077 M1525,1061 L1525,1071.6 L1545.8,1086.2 L1548,1092 M1567,1102 L1601,1118"/>
<path class="l" stroke-width="3.5" d="M1540,1050 L1550,1044 L1565,1053 L1557,1059 Z M1532,1062 L1545,1070 L1552,1068"/>
<path class="l" stroke-width="5.5" d="M1618,1081 L1641,1080 L1668,1095 L1680,1116 L1675,1140 L1643,1156 L1608,1135 L1601,1110 L1606,1094 Z"/>
<path class="l" stroke-width="4" d="M1610,1092 L1620,1100 L1640,1107 L1668,1102"/>
<path class="l" stroke-width="6.5" d="M1640,1107 L1642,1152"/>
<path class="l" stroke-width="3.5" d="M1642,1128 L1660,1118 L1675,1118 M1642,1138 L1660,1150"/>
<path class="l" stroke-width="3" d="M1608,1108 C1606,1125 1615,1140 1630,1145"/>
<!-- screwdriver 55 -->
<path class="l" stroke-width="10" d="M1519,1268 L1546,1253"/>
<path class="l" stroke-width="4.8" d="M1534,1254 L1612,1204 M1528,1271 L1622,1219"/>
<path class="f" d="M1610,1204 L1616,1199 L1628,1196 L1634,1206 L1632,1216 L1622,1221 L1614,1216 Z"/>
<ellipse class="l" stroke-width="2" cx="1637.8" cy="1203" rx="7" ry="8"/>
<path class="l" stroke-width="6" d="M1614.8,1201.6 L1630,1190 L1645.4,1173.4 L1705.5,1141.5 C1715,1137 1727,1143 1731,1155 C1735,1165 1732,1170 1725,1174 L1673.6,1201.6 L1631.4,1218.2"/>
<path class="l" stroke-width="6" d="M1646,1183 L1653,1206 M1663,1178 L1670,1201"/>
<path class="l" stroke-width="7" d="M1676,1194 L1722,1170"/>
<g class="l" stroke-width="2.6"><path d="M1677,1177 L1715,1157"/><path d="M1678,1185 L1720,1163"/><path d="M1692,1163 L1712,1153"/></g>
</g>

<g font-family="Liberation Serif, serif" font-size="38">
<text x="1641" y="1418" letter-spacing="0.9" stroke-width="0.5"><tspan fill="#4a6cc0" stroke="#4a6cc0">m</tspan><tspan fill="#44b648" stroke="#44b648">o</tspan><tspan fill="#e46aac" stroke="#e46aac">t</tspan><tspan fill="#1f9f3c" stroke="#1f9f3c">o</tspan><tspan fill="#e6521c" stroke="#e6521c">r</tspan><tspan fill="#f4a322" stroke="#f4a322">u</tspan><tspan fill="#f6c91c" stroke="#f6c91c">f</tspan></text>
<text x="1769.5" y="1418" font-size="17" fill="#333">.de</text><circle cx="1774" cy="1393.5" r="0.8" fill="#999"/>
</g>
</svg>
</body></html>
